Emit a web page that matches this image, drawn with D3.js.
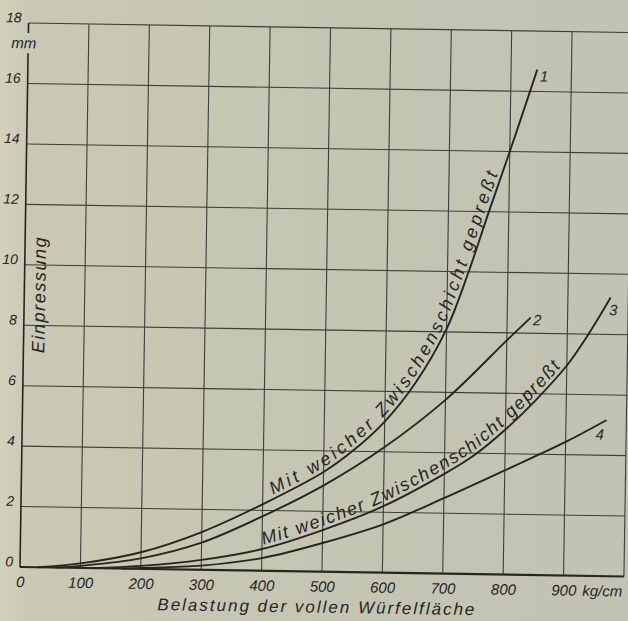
<!DOCTYPE html>
<html>
<head>
<meta charset="utf-8">
<script src="https://cdn.jsdelivr.net/npm/d3@7"></script>
<style>
html,body{margin:0;padding:0;background:#c4c5b3;}
svg{display:block;}
</style>
</head>
<body>
<svg id="chart" width="628" height="621"></svg>
<script>
// ---------------- data ----------------
const xTicks = [0, 100, 200, 300, 400, 500, 600, 700, 800, 900];
const xTickLabels = ["0", "100", "200", "300", "400", "500", "600", "700", "800", "900"];
const xUnit = "kg/cm";
const yTicks = [0, 2, 4, 6, 8, 10, 12, 14, 16, 18];
const yTickLabels = ["0", "2", "4", "6", "8", "10", "12", "14", "16", "18"];
const yUnit = "mm";
const gridX = [100, 200, 300, 400, 500, 600, 700, 800, 900, 1000];
const gridY = [2, 4, 6, 8, 10, 12, 14, 16, 18];
const xTitle = "Belastung der vollen Würfelfläche";
const yTitle = "Einpressung";
const curveNames = ["1", "2", "3", "4"];

// load (kg/cm²) , indentation (mm)
const curve1 = [[30,0],[100,0.15],[200,0.55],[300,1.25],[400,2.2],[500,3.3],[550,4.05],[600,5.0],[650,6.3],[700,8.1],[735,10],[767,12],[800,14],[832,16],[843,16.7]];
const curve2 = [[60,0],[100,0.07],[200,0.35],[300,0.9],[400,1.8],[500,2.85],[600,4.15],[700,5.75],[800,7.75],[838,8.5]];
const curve3 = [[120,0],[200,0.1],[300,0.33],[400,0.72],[500,1.38],[600,2.2],[700,3.3],[750,3.95],[800,4.8],[850,5.8],[900,6.95],[935,8.0],[970,9.2]];
const curve4 = [[170,0],[200,0.03],[300,0.14],[400,0.42],[500,0.95],[600,1.6],[700,2.5],[800,3.45],[900,4.42],[966,5.15]];
const curves = [curve1, curve2, curve3, curve4];

const noteText = "Mit weicher Zwischenschicht gepreßt";
// notes run along curve 1 and curve 3 between these loads
const notes = [
  {curve: 0, from: 420, to: 787},
  {curve: 2, from: 404, to: 895}
];

// ---------------- layout ----------------
const W = 628, H = 621;
const FONT = "'Liberation Sans', Arial, sans-serif";
const INK = "#26261f";
const GRID = "#3e3e38";
const labelOffsets = [[3, 11], [3, 7], [-1, 17], [-10, 19]];

const svg = d3.select("#chart");
const defs = svg.append("defs");
const grad = defs.append("linearGradient").attr("id", "paper").attr("x1", 0).attr("x2", 1).attr("y1", 0).attr("y2", 0);
grad.append("stop").attr("offset", "0").attr("stop-color", "#d3d1ba");
grad.append("stop").attr("offset", "0.05").attr("stop-color", "#c9c9b5");
grad.append("stop").attr("offset", "0.5").attr("stop-color", "#c4c5b3");
grad.append("stop").attr("offset", "1").attr("stop-color", "#c2c3b2");
svg.append("rect").attr("width", W).attr("height", H).attr("fill", "url(#paper)");

const x = d3.scaleLinear().domain([0, 1000]).range([0, 604]);
const y = d3.scaleLinear().domain([0, 18]).range([0, -544]);

const g = svg.append("g").attr("transform", "translate(20,567) rotate(0.9)");

// grid
g.append("g").selectAll("line").data(gridX).join("line")
  .attr("x1", d => x(d)).attr("x2", d => x(d))
  .attr("y1", y(0)).attr("y2", y(18))
  .attr("stroke", GRID).attr("stroke-width", 1.1);
g.append("g").selectAll("line").data(gridY).join("line")
  .attr("x1", x(0)).attr("x2", x(1000))
  .attr("y1", d => y(d)).attr("y2", d => y(d))
  .attr("stroke", GRID).attr("stroke-width", 1.1);

// axis lines (left axis interrupted by unit label)
g.append("line").attr("x1", x(0)).attr("x2", x(0)).attr("y1", y(0)).attr("y2", y(17.0))
  .attr("stroke", INK).attr("stroke-width", 1.6);
g.append("line").attr("x1", x(0)).attr("x2", x(0)).attr("y1", y(17.67)).attr("y2", y(18))
  .attr("stroke", INK).attr("stroke-width", 1.6);
g.append("line").attr("x1", x(0)).attr("x2", x(1000)).attr("y1", y(0)).attr("y2", y(0))
  .attr("stroke", INK).attr("stroke-width", 2.2);

// x tick labels via axis
const gx = g.append("g").call(
  d3.axisBottom(x).tickValues(xTicks).tickSize(0).tickFormat((d, i) => xTickLabels[i])
);
gx.select(".domain").remove();
gx.attr("font-family", null).attr("font-size", null);
gx.selectAll("text")
  .attr("y", 20).attr("dy", null)
  .attr("font-family", FONT).attr("font-style", "italic").attr("font-size", 15)
  .attr("fill", INK);
g.append("text").attr("x", x(900) + 19).attr("y", 20)
  .attr("font-family", FONT).attr("font-style", "italic").attr("font-size", 15)
  .attr("fill", INK).text(xUnit);

// y tick labels via axis
const gy = g.append("g").call(
  d3.axisLeft(y).tickValues(yTicks).tickSize(0).tickFormat((d, i) => yTickLabels[i])
);
gy.select(".domain").remove();
gy.attr("font-family", null).attr("font-size", null);
gy.selectAll("text")
  .attr("x", -7).attr("dy", "-1")
  .attr("font-family", FONT).attr("font-style", "italic").attr("font-size", 14)
  .attr("fill", INK);
g.append("text").attr("x", -4.5).attr("y", y(17.0) - 5).attr("text-anchor", "middle")
  .attr("font-family", FONT).attr("font-style", "italic").attr("font-size", 15)
  .attr("fill", INK).text(yUnit);

// titles
g.append("text").attr("x", 138).attr("y", 41)
  .attr("textLength", 317).attr("lengthAdjust", "spacing")
  .attr("font-family", FONT).attr("font-style", "italic").attr("font-size", 17)
  .attr("fill", INK).text(xTitle);
g.append("text").attr("transform", "translate(21,-272) rotate(-90)").attr("x", -58)
  .attr("textLength", 116).attr("lengthAdjust", "spacing")
  .attr("font-family", FONT).attr("font-style", "italic").attr("font-size", 18)
  .attr("fill", INK).text(yTitle);

// curves
const line = d3.line().x(d => x(d[0])).y(d => y(d[1])).curve(d3.curveCatmullRom.alpha(0.5));
const paths = curves.map((c, i) =>
  g.append("path").attr("id", "curve" + i).attr("d", line(c))
    .attr("fill", "none").attr("stroke", INK).attr("stroke-width", 1.9)
    .attr("stroke-linecap", "round")
);

// curve numbers
curves.forEach((c, i) => {
  const last = c[c.length - 1];
  g.append("text")
    .attr("x", x(last[0]) + labelOffsets[i][0])
    .attr("y", y(last[1]) + labelOffsets[i][1])
    .attr("font-family", FONT).attr("font-style", "italic").attr("font-size", 15)
    .attr("fill", INK).text(curveNames[i]);
});

// notes along curves (one text element per word)
function lengthAtX(node, xv) {
  let lo = 0, hi = node.getTotalLength();
  for (let k = 0; k < 40; k++) {
    const mid = (lo + hi) / 2;
    if (node.getPointAtLength(mid).x < xv) lo = mid; else hi = mid;
  }
  return lo;
}
const noteFont = 18;
notes.forEach(n => {
  const node = paths[n.curve].node();
  const s = lengthAtX(node, x(n.from));
  const e = lengthAtX(node, x(n.to));
  const tmp = g.append("text").attr("x", 0).attr("y", 0)
    .attr("font-family", FONT).attr("font-style", "italic").attr("font-size", noteFont)
    .text(noteText);
  const natural = tmp.node().getComputedTextLength();
  const ls = (e - s - natural) / (noteText.length - 1);
  tmp.style("letter-spacing", ls + "px");
  const words = noteText.split(" ");
  const x0 = tmp.node().getStartPositionOfChar(0).x;
  let idx = 0;
  const offs = words.map(w => {
    const p = tmp.node().getStartPositionOfChar(idx).x - x0;
    idx += w.length + 1;
    return p;
  });
  tmp.remove();
  words.forEach((w, i) => {
    const t = g.append("text")
      .attr("font-family", FONT).attr("font-style", "italic").attr("font-size", noteFont)
      .attr("fill", INK).attr("dy", -4)
      .style("letter-spacing", ls + "px");
    t.append("textPath").attr("href", "#curve" + n.curve)
      .attr("startOffset", s + offs[i]).text(w);
  });
});
</script>
</body>
</html>
